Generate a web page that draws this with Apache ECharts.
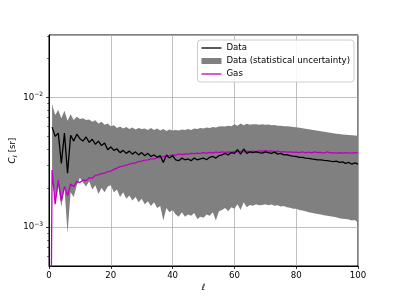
<!DOCTYPE html>
<html>
<head>
<meta charset="utf-8">
<script src="https://cdn.jsdelivr.net/npm/echarts@6/dist/echarts.min.js"></script>
<style>html,body{margin:0;padding:0;background:#fff;}#c{width:399px;height:299px;}</style>
</head>
<body>
<div id="c"></div>
<script>
// multipole index l = 0..100
const ell = Array.from({length: 101}, (_, i) => i);

// Data (black line), index 0 = l = 0
const dataCl = [null,
5.9e-3,5.0e-3,5.3e-3,3.1e-3,5.3e-3,2.6e-3,5.1e-3,4.6e-3,5.2e-3,4.8e-3,
4.6e-3,4.95e-3,4.5e-3,4.75e-3,4.35e-3,4.6e-3,4.25e-3,4.45e-3,3.95e-3,4.15e-3,
3.9e-3,4.0e-3,3.75e-3,3.9e-3,3.7e-3,3.85e-3,3.65e-3,3.8e-3,3.6e-3,3.75e-3,
3.55e-3,3.7e-3,3.5e-3,3.6e-3,3.45e-3,3.55e-3,3.15e-3,3.6e-3,3.4e-3,3.55e-3,
3.3e-3,3.25e-3,3.4e-3,3.3e-3,3.35e-3,3.25e-3,3.4e-3,3.3e-3,3.35e-3,3.4e-3,
3.3e-3,3.45e-3,3.5e-3,3.4e-3,3.55e-3,3.6e-3,3.7e-3,3.6e-3,3.75e-3,3.7e-3,
3.95e-3,3.65e-3,4.0e-3,3.7e-3,3.8e-3,3.75e-3,3.8e-3,3.75e-3,3.72e-3,3.8e-3,
3.75e-3,3.7e-3,3.78e-3,3.65e-3,3.7e-3,3.6e-3,3.62e-3,3.55e-3,3.52e-3,3.5e-3,
3.45e-3,3.45e-3,3.4e-3,3.38e-3,3.35e-3,3.33e-3,3.3e-3,3.3e-3,3.27e-3,3.25e-3,
3.22e-3,3.2e-3,3.22e-3,3.15e-3,3.18e-3,3.1e-3,3.15e-3,3.05e-3,3.12e-3,3.05e-3];

// statistical uncertainty band: upper and lower edges
const dataUpper = [null,
8.9e-3,7.3e-3,8.0e-3,6.9e-3,7.9e-3,6.6e-3,7.4e-3,6.7e-3,7.1e-3,6.8e-3,
6.9e-3,6.7e-3,6.75e-3,6.5e-3,6.65e-3,6.3e-3,6.5e-3,6.15e-3,6.3e-3,6.0e-3,
6.1e-3,5.8e-3,5.95e-3,5.75e-3,5.9e-3,5.7e-3,5.85e-3,5.65e-3,5.8e-3,5.7e-3,
5.75e-3,5.6e-3,5.8e-3,5.6e-3,5.75e-3,5.55e-3,5.7e-3,5.5e-3,5.65e-3,5.55e-3,
5.6e-3,5.55e-3,5.65e-3,5.6e-3,5.7e-3,5.6e-3,5.75e-3,5.7e-3,5.8e-3,5.75e-3,
5.85e-3,5.8e-3,5.9e-3,5.85e-3,5.95e-3,6.0e-3,5.95e-3,6.05e-3,6.0e-3,6.2e-3,
6.05e-3,6.3e-3,6.1e-3,6.25e-3,6.15e-3,6.2e-3,6.2e-3,6.15e-3,6.2e-3,6.15e-3,
6.18e-3,6.1e-3,6.12e-3,6.05e-3,6.05e-3,6.0e-3,5.98e-3,5.95e-3,5.9e-3,5.88e-3,
5.82e-3,5.78e-3,5.72e-3,5.68e-3,5.62e-3,5.58e-3,5.52e-3,5.48e-3,5.42e-3,5.38e-3,
5.33e-3,5.3e-3,5.25e-3,5.22e-3,5.18e-3,5.15e-3,5.12e-3,5.1e-3,5.08e-3,5.05e-3];

const dataLower = [null,
2.8e-3,1.6e-3,2.05e-3,1.43e-3,2.0e-3,9.0e-4,1.85e-3,1.7e-3,2.1e-3,2.4e-3,
2.2e-3,2.05e-3,2.25e-3,1.95e-3,2.1e-3,1.8e-3,2.0e-3,1.85e-3,2.05e-3,2.1e-3,
1.85e-3,1.95e-3,1.7e-3,1.85e-3,1.65e-3,1.75e-3,1.6e-3,1.7e-3,1.55e-3,1.65e-3,
1.5e-3,1.58e-3,1.45e-3,1.55e-3,1.4e-3,1.45e-3,1.12e-3,1.4e-3,1.3e-3,1.35e-3,
1.25e-3,1.2e-3,1.3e-3,1.2e-3,1.25e-3,1.22e-3,1.28e-3,1.15e-3,1.2e-3,1.18e-3,
1.25e-3,1.22e-3,1.3e-3,1.12e-3,1.32e-3,1.35e-3,1.4e-3,1.32e-3,1.42e-3,1.38e-3,
1.5e-3,1.35e-3,1.55e-3,1.42e-3,1.48e-3,1.46e-3,1.5e-3,1.47e-3,1.48e-3,1.5e-3,
1.47e-3,1.49e-3,1.46e-3,1.47e-3,1.44e-3,1.45e-3,1.42e-3,1.41e-3,1.38e-3,1.38e-3,
1.35e-3,1.34e-3,1.32e-3,1.3e-3,1.29e-3,1.27e-3,1.26e-3,1.25e-3,1.23e-3,1.22e-3,
1.21e-3,1.2e-3,1.19e-3,1.17e-3,1.16e-3,1.15e-3,1.14e-3,1.12e-3,1.13e-3,1.08e-3];

// Gas model (magenta)
const gasCl = [1e-6,
2.75e-3,1.5e-3,2.3e-3,1.6e-3,2.05e-3,1.75e-3,2.15e-3,2.05e-3,2.25e-3,2.2e-3,
2.3e-3,2.28e-3,2.4e-3,2.38e-3,2.5e-3,2.52e-3,2.58e-3,2.6e-3,2.68e-3,2.7e-3,
2.78e-3,2.85e-3,2.92e-3,2.95e-3,3.0e-3,3.05e-3,3.1e-3,3.12e-3,3.2e-3,3.22e-3,
3.28e-3,3.3e-3,3.35e-3,3.36e-3,3.42e-3,3.45e-3,3.5e-3,3.48e-3,3.55e-3,3.6e-3,
3.58e-3,3.65e-3,3.62e-3,3.67e-3,3.65e-3,3.7e-3,3.68e-3,3.72e-3,3.7e-3,3.75e-3,
3.72e-3,3.76e-3,3.74e-3,3.78e-3,3.75e-3,3.8e-3,3.77e-3,3.8e-3,3.78e-3,3.82e-3,
3.8e-3,3.83e-3,3.8e-3,3.84e-3,3.82e-3,3.85e-3,3.82e-3,3.86e-3,3.84e-3,3.88e-3,
3.85e-3,3.86e-3,3.82e-3,3.84e-3,3.8e-3,3.82e-3,3.78e-3,3.8e-3,3.76e-3,3.78e-3,
3.75e-3,3.8e-3,3.74e-3,3.78e-3,3.73e-3,3.8e-3,3.74e-3,3.76e-3,3.72e-3,3.8e-3,
3.73e-3,3.75e-3,3.72e-3,3.74e-3,3.72e-3,3.74e-3,3.73e-3,3.72e-3,3.74e-3,3.73e-3];

const xTicks = [0, 20, 40, 60, 80, 100];
const yMajorTicks = [1e-3, 1e-2];
const yMinorTicks = [6e-4, 7e-4, 8e-4, 9e-4, 2e-3, 3e-3, 4e-3, 5e-3, 6e-3, 7e-3, 8e-3, 9e-3, 2e-2, 3e-2];

const FONT = 'DejaVu Sans';
const FS = 8.6;
const pair = arr => ell.map((l, i) => [l, arr[i] == null ? '-' : arr[i]]);
const tickData = yMajorTicks.map(v => [0, v, 1]).concat(yMinorTicks.map(v => [0, v, 0]));
const LINE_ICON = 'path://M0,0 L20,0 L20,1.3 L0,1.3 Z';

const chart = echarts.init(document.getElementById('c'), null, {renderer: 'canvas'});
chart.setOption({
  animation: false,
  backgroundColor: '#fff',
  grid: {left: 49, right: 41, top: 35, bottom: 33, show: true, borderColor: '#000', borderWidth: 1,
         backgroundColor: 'transparent', outerBoundsMode: 'none', containLabel: false},
  legend: {
    orient: 'vertical', right: 45, top: 40,
    itemWidth: 20, itemHeight: 6, itemGap: 1,
    padding: [2, 4, 2, 4],
    backgroundColor: 'rgba(255,255,255,0.85)',
    borderColor: '#cccccc', borderWidth: 1, borderRadius: 3,
    textStyle: {fontFamily: FONT, fontSize: FS, color: '#000', lineHeight: 12},
    data: [
      {name: 'Data', icon: LINE_ICON, itemStyle: {color: '#000'}},
      {name: 'Data (statistical uncertainty)', icon: 'rect', itemStyle: {color: '#808080'}},
      {name: 'Gas', icon: LINE_ICON, itemStyle: {color: '#bf00bf'}}
    ]
  },
  xAxis: {
    type: 'value', min: 0, max: 100, interval: 20,
    name: 'ℓ', nameLocation: 'middle', nameGap: 17, nameMoveOverlap: false,
    nameTextStyle: {fontFamily: FONT, fontSize: FS, fontStyle: 'italic', color: '#000'},
    axisLine: {show: true, lineStyle: {color: '#000', width: 1}},
    axisTick: {show: true, inside: false, length: 3, lineStyle: {color: '#000', width: 0.8}},
    axisLabel: {fontFamily: FONT, fontSize: FS, color: '#000', margin: 5},
    splitLine: {show: true, lineStyle: {color: '#b0b0b0', width: 0.8}}
  },
  yAxis: {
    type: 'log', logBase: 10, min: 5e-4, max: 0.0303,
    name: '{i|C}{sub|ℓ} [sr]', nameLocation: 'middle', nameGap: 31, nameMoveOverlap: false,
    nameTextStyle: {fontFamily: FONT, fontSize: FS, color: '#000',
      rich: {i: {fontFamily: FONT, fontSize: FS, fontStyle: 'italic', color: '#000'},
             sub: {fontFamily: FONT, fontSize: 6, fontStyle: 'italic', color: '#000', padding: [4, 0, 0, 0]}}},
    axisLine: {show: true, lineStyle: {color: '#000', width: 1}},
    axisTick: {show: false},
    minorTick: {show: false},
    axisLabel: {
      margin: 6, showMinLabel: false, showMaxLabel: false,
      formatter: v => {
        const e = Math.round(Math.log10(v));
        return '{b|10}{s|' + (e < 0 ? '−' : '') + Math.abs(e) + '}';
      },
      rich: {b: {fontFamily: FONT, fontSize: FS, color: '#000'},
             s: {fontFamily: FONT, fontSize: 6, color: '#000', padding: [0, 0, 6, 0]}}
    },
    splitLine: {show: true, lineStyle: {color: '#b0b0b0', width: 0.8}}
  },
  series: [
    {
      name: 'Data (statistical uncertainty)', type: 'custom', data: [[50, 3e-3]],
      encode: {x: 0, y: 1}, silent: true, z: 1,
      itemStyle: {color: '#808080'},
      renderItem: (params, api) => {
        const pts = [];
        for (let i = 0; i < ell.length; i++) {
          if (dataUpper[i] != null) pts.push(api.coord([ell[i], dataUpper[i]]));
        }
        for (let i = ell.length - 1; i >= 0; i--) {
          if (dataLower[i] != null) pts.push(api.coord([ell[i], dataLower[i]]));
        }
        return {type: 'polygon', shape: {points: pts}, style: {fill: '#808080', stroke: null}};
      }
    },
    {
      name: 'Gas', type: 'line', data: pair(gasCl), symbol: 'none',
      itemStyle: {color: '#bf00bf'},
      lineStyle: {color: '#bf00bf', width: 1.3}, z: 3
    },
    {
      name: 'Data', type: 'line', data: pair(dataCl), symbol: 'none',
      itemStyle: {color: '#000'},
      lineStyle: {color: '#000', width: 1.3}, z: 4
    },
    {
      name: 'yticks', type: 'custom', data: tickData, clip: false, silent: true, z: 5,
      encode: {x: 0, y: 1},
      renderItem: (params, api) => {
        const p = api.coord([api.value(0), api.value(1)]);
        const len = api.value(2) ? 3 : 1.8;
        const y = Math.round(p[1]) + 0.5;
        return {type: 'line', shape: {x1: p[0] - len, y1: y, x2: p[0], y2: y},
                style: {stroke: '#000', lineWidth: api.value(2) ? 0.8 : 0.6}};
      }
    }
  ]
});
</script>
</body>
</html>
